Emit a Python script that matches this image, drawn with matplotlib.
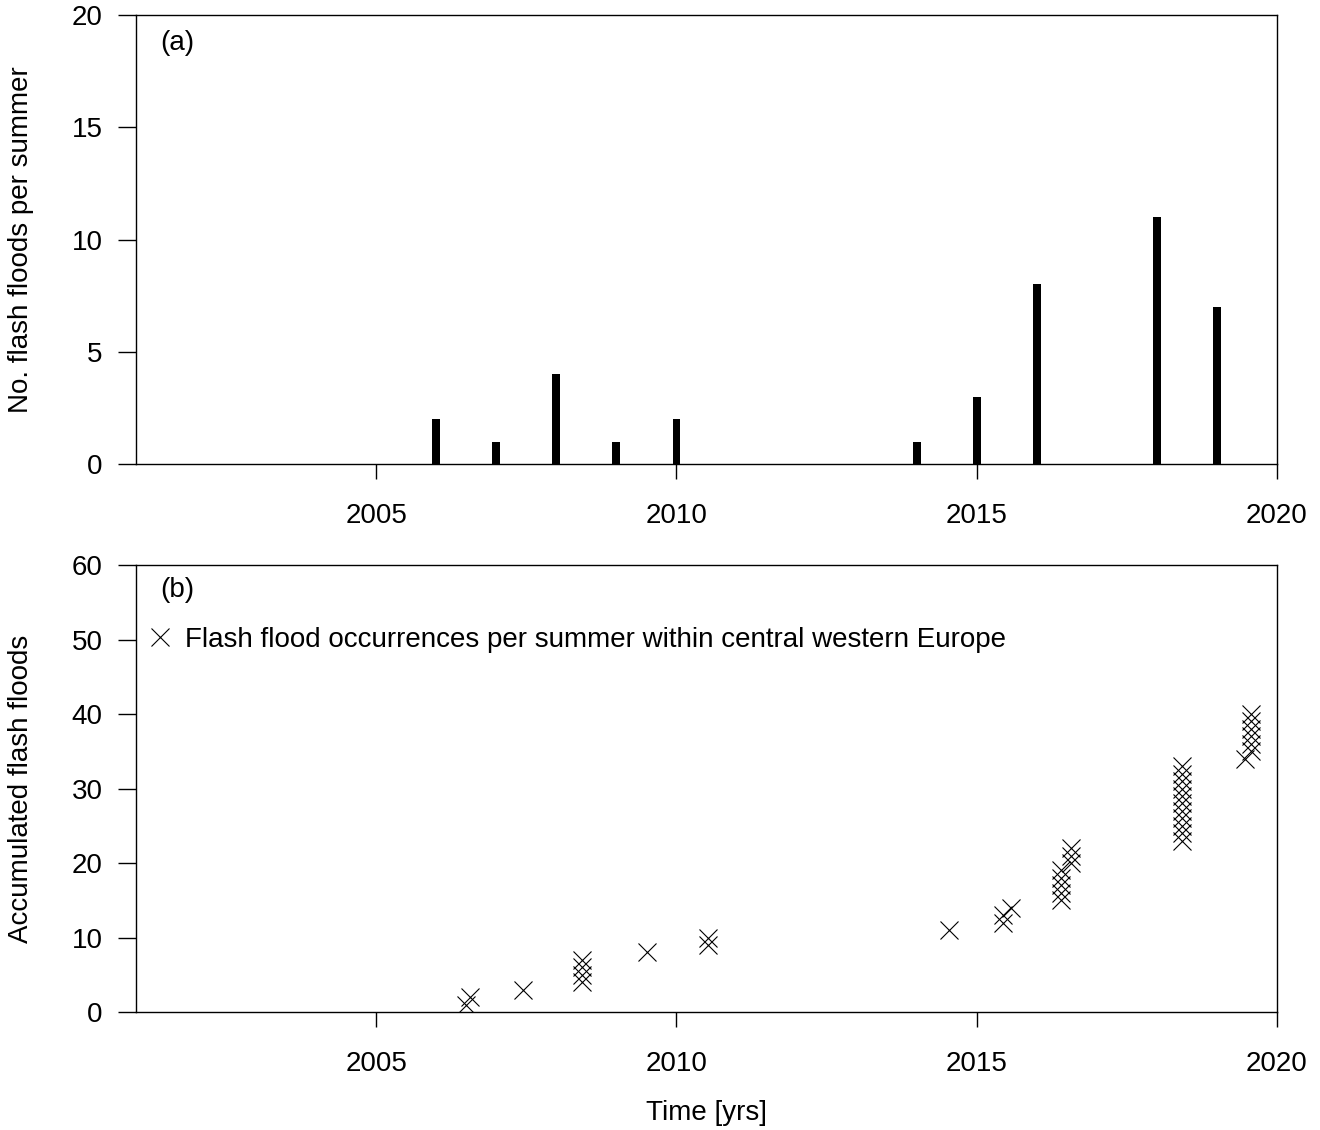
import numpy as np
import matplotlib
matplotlib.use('Agg')
import matplotlib.pyplot as plt

plt.rcParams['font.family'] = ['Liberation Sans', 'DejaVu Sans']
plt.rcParams['font.size'] = 20

# flash floods per summer (panel a)
years  = [2006, 2007, 2008, 2009, 2010, 2014, 2015, 2016, 2018, 2019]
counts = [2, 1, 4, 1, 2, 1, 3, 8, 11, 7]

# individual events as fractional year (panel b)
event_times = [2006.50, 2006.56,
               2007.44,
               2008.43, 2008.43, 2008.43, 2008.43,
               2009.51,
               2010.52, 2010.53,
               2014.54,
               2015.43, 2015.44, 2015.57,
               2016.41, 2016.41, 2016.41, 2016.41, 2016.41,
               2016.57, 2016.57, 2016.57,
               2018.42, 2018.42, 2018.42, 2018.42, 2018.42, 2018.42,
               2018.42, 2018.42, 2018.42, 2018.42, 2018.42,
               2019.47,
               2019.56, 2019.56, 2019.56, 2019.56, 2019.56, 2019.56]
accumulated = np.arange(1, len(event_times) + 1)

xticks = [2005, 2010, 2015, 2020]

fig = plt.figure(figsize=(13.2, 11.3), dpi=100)
ax1 = fig.add_axes([0.1030, 0.5894, 0.8644, 0.3973])
ax2 = fig.add_axes([0.1030, 0.1044, 0.8644, 0.3956])

for ax in (ax1, ax2):
    ax.set_xlim(2001, 2020)
    ax.set_xticks(xticks)
    ax.set_xticklabels([str(t) for t in xticks])
    for s in ax.spines.values():
        s.set_linewidth(1.0)
    ax.tick_params(axis='x', direction='out', length=11, width=1.0, pad=17)
    ax.tick_params(axis='y', direction='out', length=13, width=1.0, pad=11)

# panel a
ax1.bar(years, counts, width=0.13, color='black')
ax1.set_ylim(0, 20)
ax1.set_yticks([0, 5, 10, 15, 20])
ax1.set_ylabel('No. flash floods per summer')
ax1.yaxis.set_label_coords(-0.089, 0.5)
ax1.text(2001.4, 18.75, '(a)', va='center', ha='left')

# panel b
ax2.plot(event_times, accumulated, linestyle='none', marker='x', color='black',
         markersize=13, markeredgewidth=0.8,
         label='Flash flood occurrences per summer within central western Europe')
ax2.set_ylim(0, 60)
ax2.set_yticks([0, 10, 20, 30, 40, 50, 60])
ax2.set_ylabel('Accumulated flash floods')
ax2.yaxis.set_label_coords(-0.089, 0.5)
ax2.set_xlabel('Time [yrs]')
ax2.xaxis.set_label_coords(0.5, -0.197)
ax2.text(2001.4, 56.6, '(b)', va='center', ha='left')
ax2.legend(loc='center left', bbox_to_anchor=(2001.2, 50.0),
           bbox_transform=ax2.transData, frameon=False, borderpad=0,
           borderaxespad=0, handlelength=0.9, handletextpad=0.45)

fig.savefig('out.png', dpi=100)
